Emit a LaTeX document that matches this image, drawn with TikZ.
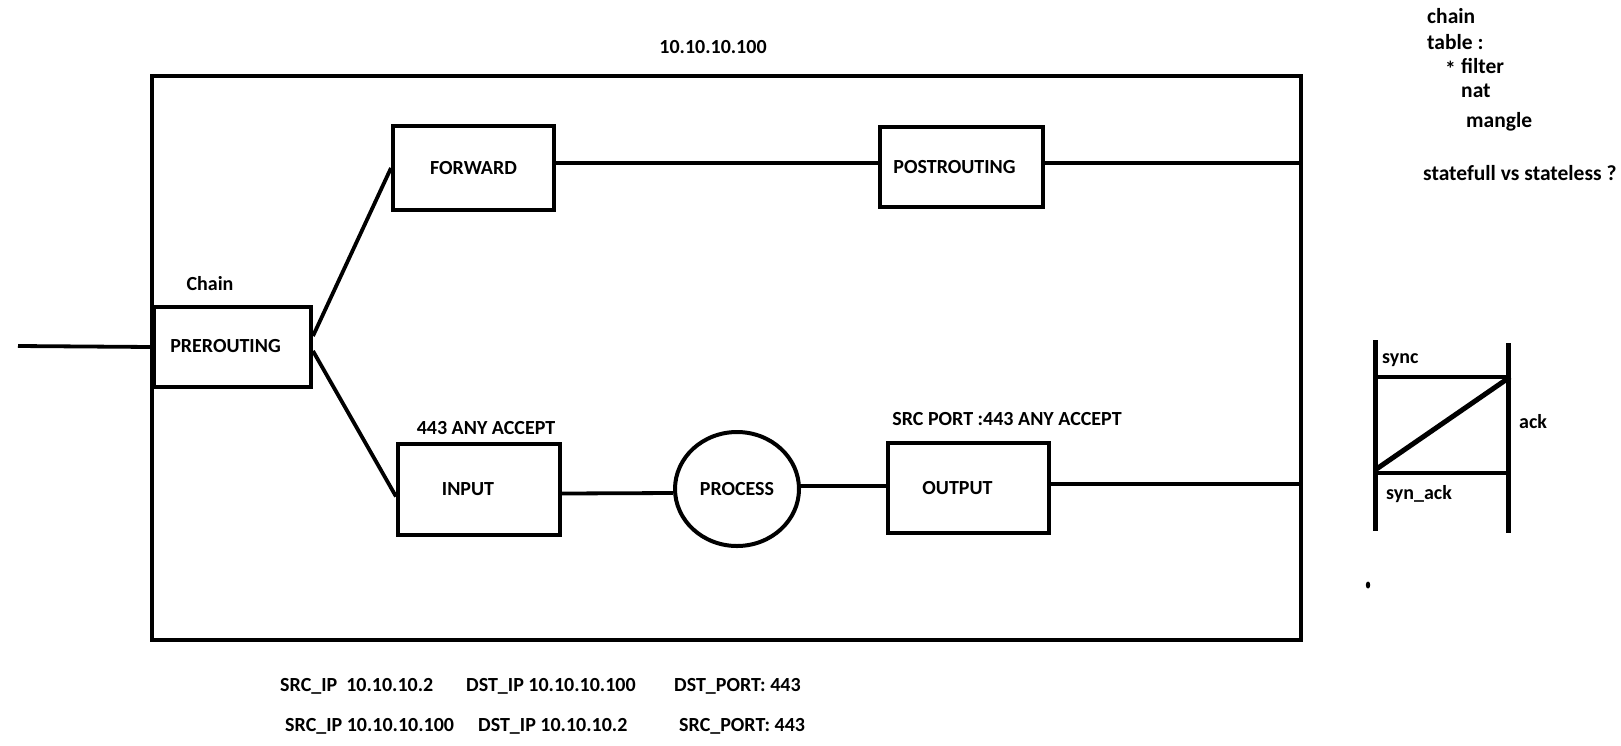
\documentclass[tikz,border=0pt]{standalone}
\usepackage{fontspec}
\setmainfont{Carlito}
\usetikzlibrary{shapes.geometric}

\begin{document}
\begin{tikzpicture}[x=1pt, y=-1pt,
    chainbox/.style={draw, line width=4pt, inner sep=0,
        font=\fontsize{20}{24}\selectfont\bfseries},
    txt/.style={inner sep=0, font=\fontsize{20}{24}\selectfont\bfseries},
    note/.style={inner sep=0, anchor=west,
        font=\fontsize{21.5}{26}\selectfont\bfseries},
    link/.style={line width=3.8pt},
    wire/.style={line width=5pt}]

    \useasboundingbox (0,0) rectangle (1621,745);

    % Host
    \node[draw, line width=4pt, minimum width=1149pt, minimum height=564pt]
        (host) at (726.5,358) {};
    \node[txt] (hostip) at (713,47) {10.10.10.100};

    % Chains
    \node[chainbox, minimum width=157pt, minimum height=80pt]
        (pre) at (232.5,347) {\raisebox{3pt}{PREROUTING}\hspace*{14pt}};
    \node[txt] (chain) at (210,284) {Chain};
    \node[chainbox, minimum width=161pt, minimum height=84pt]
        (fwd) at (473.5,168) {FORWARD};
    \node[chainbox, minimum width=163pt, minimum height=80pt]
        (post) at (961.5,167) {POSTROUTING\hspace*{14pt}};
    \node[chainbox, minimum width=162pt, minimum height=91pt]
        (inp) at (479,489.5) {INPUT\hspace*{22pt}};
    \node[txt] (inrule) at (486,428) {443 ANY ACCEPT};
    \node[chainbox, ellipse, minimum width=124pt, minimum height=114pt]
        (proc) at (737,489) {PROCESS};
    \node[chainbox, minimum width=161pt, minimum height=90pt]
        (out) at (968.5,488) {OUTPUT\hspace*{22pt}};
    \node[txt] (outrule) at (1007,419) {SRC PORT :443 ANY ACCEPT};

    % Links
    \coordinate (wan) at (18,346);
    \draw[link] (wan) -- (pre.west);
    \draw[link] ([yshift=11pt]pre.east) -- (fwd.west);
    \draw[link] ([yshift=-4pt]pre.east) -- ([yshift=-7pt]inp.west);
    \draw[link] ([yshift=5pt]fwd.east) -- ([yshift=4pt]post.west);
    \draw[link] ([yshift=4pt]post.east) -- ([yshift=4pt]post.east -| host.east);
    \draw[link] ([yshift=-4pt]inp.east) -- ([yshift=-4pt]proc.west);
    \draw[link] ([yshift=3pt]proc.east) -- ([yshift=2pt]out.west);
    \draw[link] ([yshift=4pt]out.east) -- ([yshift=4pt]out.east -| host.east);

    % Packets
    \node[txt, anchor=west] (reqsrc) at (280,686) {SRC\_IP\ \ 10.10.10.2};
    \node[txt, anchor=west] (reqdst) at (466,686) {DST\_IP 10.10.10.100};
    \node[txt, anchor=west] (reqport) at (674,686) {DST\_PORT: 443};
    \node[txt, anchor=west] (repsrc) at (285,726) {SRC\_IP 10.10.10.100};
    \node[txt, anchor=west] (repdst) at (478,726) {DST\_IP 10.10.10.2};
    \node[txt, anchor=west] (repport) at (679,726) {SRC\_PORT: 443};

    % Tables
    \node[note] (tchain) at (1427,16) {chain};
    \node[note] (ttable) at (1427,42) {table :};
    \node[note] (tstar) at (1445,69) {*};
    \node[note] (tfilter) at (1461,66) {filter};
    \node[note] (tnat) at (1461,91) {nat};
    \node[note] (tmangle) at (1466,122) {mangle};
    \node[note] (tstate) at (1423,173) {statefull vs stateless ?};

    % Handshake
    \coordinate (cltop) at (1375,340);
    \coordinate (clbot) at (1375,531);
    \coordinate (svtop) at (1508,343);
    \coordinate (svbot) at (1508,533);
    \coordinate (syna) at (1375,377);
    \coordinate (synb) at (1510,377);
    \coordinate (acka) at (1375,473);
    \coordinate (ackb) at (1508,473);
    \coordinate (diaga) at (1375,470);
    \draw[wire] (cltop) -- (clbot);
    \draw[wire] (svtop) -- (svbot);
    \draw[link] (syna) -- (synb);
    \draw[link] (acka) -- (ackb);
    \draw[wire] (diaga) -- (synb);
    \node[txt, anchor=west] (sync) at (1382,360) {sync};
    \node[txt, anchor=west] (ack) at (1519,422) {ack};
    \node[txt, anchor=west] (synack) at (1386,494) {syn\_ack};
    \fill (1368,585) ellipse (2.2pt and 3.5pt);

\end{tikzpicture}
\end{document}
